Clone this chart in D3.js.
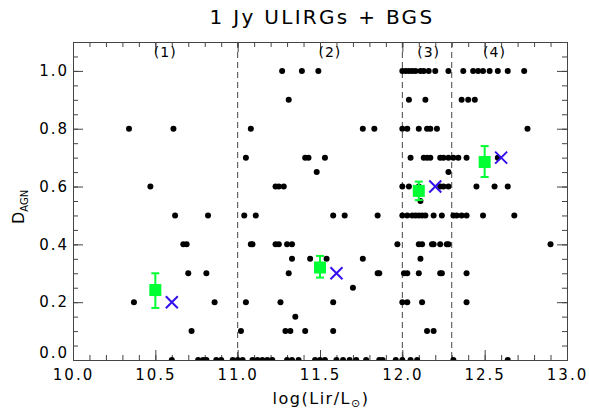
<!DOCTYPE html>
<html>
<head>
<meta charset="utf-8">
<script src="https://d3js.org/d3.v7.min.js"></script>
<style>
    body { margin: 0; background: #fff; }
    text { font-family: "DejaVu Sans", sans-serif; fill: #000; }
    .axis path, .axis line { stroke: #444; stroke-width: 1px; }
    .axis text { font-size: 15px; letter-spacing: 2px; }
</style>
</head>
<body>
<svg class="target" width="589" height="419"></svg>
<script>

    // log(Lir/Lsun) of each galaxy, grouped by its D_AGN value
    let d100 = [11.27, 11.39, 11.49, 12.0, 12.02, 12.04, 12.06, 12.08, 12.11, 12.13, 12.16, 12.20, 12.28, 12.37, 12.43, 12.46, 12.49, 12.53, 12.58, 12.64, 12.74];
    let d090 = [11.31, 12.04, 12.14, 12.36, 12.40, 12.44];
    let d080 = [10.34, 10.61, 11.08, 11.76, 11.83, 12.0, 12.03, 12.10, 12.15, 12.17, 12.21, 12.76];
    let d070 = [11.05, 11.41, 11.43, 11.53, 12.05, 12.13, 12.15, 12.17, 12.23, 12.25, 12.28, 12.31, 12.34, 12.39, 12.58];
    let d065 = [11.48, 12.28];
    let d060 = [10.47, 11.23, 11.25, 11.28, 12.0, 12.04, 12.10, 12.23, 12.25, 12.28, 12.45, 12.56, 12.64];
    let d055 = [12.11];
    let d050 = [10.62, 10.82, 11.04, 11.11, 11.58, 11.65, 11.85, 12.0, 12.03, 12.06, 12.08, 12.10, 12.12, 12.14, 12.19, 12.24, 12.31, 12.33, 12.36, 12.39, 12.49, 12.68];
    let d040 = [10.67, 10.69, 11.08, 11.09, 11.23, 11.25, 11.30, 11.33, 11.97, 12.10, 12.12, 12.18, 12.19, 12.23, 12.27, 12.28, 12.90];
    let d035 = [11.33, 11.44, 11.54, 11.76, 12.11];
    let d030 = [10.70, 10.81, 11.31, 11.85, 11.86, 12.01, 12.03, 12.10, 12.23, 12.24, 12.39];
    let d025 = [11.70];
    let d020 = [10.37, 10.86, 11.05, 11.26, 11.58, 12.0, 12.03, 12.12, 12.39];
    let d015 = [11.35];
    let d010 = [10.72, 11.02, 11.29, 11.32, 11.41, 11.58, 12.15, 12.19];
    let d000 = [10.60, 10.76, 10.79, 10.81, 10.87, 10.90, 10.97, 11.0, 11.03, 11.09, 11.12, 11.15, 11.18, 11.21, 11.30, 11.33, 11.37, 11.47, 11.50, 11.53, 11.60, 11.64, 11.68, 11.72, 11.78, 11.86, 11.88, 11.96, 12.0, 12.05, 12.09, 12.31, 12.64];

    // bin means (green squares with errors) and medians (blue crosses)
    let meanX = [10.5, 11.5, 12.1, 12.5];
    let meanY = [0.242, 0.32, 0.585, 0.685];
    let errLo = [0.18, 0.285, 0.553, 0.633];
    let errHi = [0.30, 0.36, 0.617, 0.74];
    let medX = [10.6, 11.6, 12.2, 12.6];
    let medY = [0.2, 0.3, 0.6, 0.7];

    let binEdges = [11.0, 12.0, 12.3];
    let binLabels = ["(1)", "(2)", "(3)", "(4)"];
    let binLabelX = [10.56, 11.56, 12.16, 12.56];

    let xTicks = [10.0, 10.5, 11.0, 11.5, 12.0, 12.5, 13.0];
    let yTicks = [0.0, 0.2, 0.4, 0.6, 0.8, 1.0];

    let rows = [
        [1.0, d100], [0.9, d090], [0.8, d080], [0.7, d070], [0.65, d065], [0.6, d060],
        [0.55, d055], [0.5, d050], [0.4, d040], [0.35, d035], [0.3, d030], [0.25, d025],
        [0.2, d020], [0.15, d015], [0.1, d010], [0.0, d000]
    ];
    let points = [];
    rows.forEach(r => r[1].forEach(v => points.push({x: v, y: r[0]})));

    let svg = d3.select(".target"),
        pLeft = 73, pRight = 567, pTop = 42, pBottom = 360;

    let x = d3.scaleLinear().domain([10, 13]).range([pLeft, pRight]);
    let y = d3.scaleLinear().domain([0, 1.1]).range([pBottom, pTop]);

    svg.append("defs").append("clipPath").attr("id", "plotclip")
        .append("rect")
        .attr("x", pLeft).attr("y", pTop)
        .attr("width", pRight - pLeft).attr("height", pBottom - pTop);

    // minor ticks
    let xMinor = d3.range(10, 13.001, 0.1);
    let yMinor = d3.range(0, 1.101, 0.05);
    svg.append("g").attr("class", "axis").attr("transform", "translate(0," + pBottom + ")")
        .call(d3.axisBottom(x).tickValues(xMinor).tickSize(-5).tickSizeOuter(0).tickFormat(""));
    svg.append("g").attr("class", "axis").attr("transform", "translate(0," + pTop + ")")
        .call(d3.axisTop(x).tickValues(xMinor).tickSize(-5).tickSizeOuter(0).tickFormat(""));
    svg.append("g").attr("class", "axis").attr("transform", "translate(" + pLeft + ",0)")
        .call(d3.axisLeft(y).tickValues(yMinor).tickSize(-5).tickSizeOuter(0).tickFormat(""));
    svg.append("g").attr("class", "axis").attr("transform", "translate(" + pRight + ",0)")
        .call(d3.axisRight(y).tickValues(yMinor).tickSize(-5).tickSizeOuter(0).tickFormat(""));

    // major ticks + labels
    svg.append("g").attr("class", "axis").attr("transform", "translate(0," + pBottom + ")")
        .call(d3.axisBottom(x).tickValues(xTicks).tickSize(-10).tickSizeOuter(0).tickPadding(9).tickFormat(d3.format(".1f")));
    svg.append("g").attr("class", "axis").attr("transform", "translate(0," + pTop + ")")
        .call(d3.axisTop(x).tickValues(xTicks).tickSize(-10).tickSizeOuter(0).tickFormat(""));
    let yAxisG = svg.append("g").attr("class", "axis").attr("transform", "translate(" + pLeft + ",0)")
        .call(d3.axisLeft(y).tickValues(yTicks).tickSize(-10).tickSizeOuter(0).tickPadding(4).tickFormat(d3.format(".1f")));
    // lift the bottom label clear of the x labels, as in the original
    yAxisG.selectAll(".tick text").filter(d => d === 0).attr("dy", "-0.15em");
    svg.append("g").attr("class", "axis").attr("transform", "translate(" + pRight + ",0)")
        .call(d3.axisRight(y).tickValues(yTicks).tickSize(-10).tickSizeOuter(0).tickFormat(""));

    // bin boundaries
    svg.append("g").selectAll("line")
        .data(binEdges)
        .enter().append("line")
        .attr("x1", d => x(d)).attr("x2", d => x(d))
        .attr("y1", pTop).attr("y2", pBottom)
        .attr("stroke", "#444")
        .attr("stroke-width", 1)
        .attr("stroke-dasharray", "6,4");

    svg.append("g").selectAll("text")
        .data(binLabels)
        .enter().append("text")
        .attr("x", (d, i) => x(binLabelX[i]))
        .attr("y", 57)
        .attr("text-anchor", "middle")
        .style("font-size", "14px")
        .style("letter-spacing", "1px")
        .text(d => d);

    // galaxies
    svg.append("g").attr("clip-path", "url(#plotclip)")
        .selectAll("circle")
        .data(points)
        .enter().append("circle")
        .attr("cx", d => x(d.x))
        .attr("cy", d => y(d.y))
        .attr("r", 3)
        .attr("fill", "#000");

    // mean with error bars
    let means = meanX.map((v, i) => ({x: v, y: meanY[i], lo: errLo[i], hi: errHi[i]}));
    let mg = svg.append("g").selectAll("g").data(means).enter().append("g");
    mg.append("line")
        .attr("x1", d => x(d.x)).attr("x2", d => x(d.x))
        .attr("y1", d => y(d.lo)).attr("y2", d => y(d.hi))
        .attr("stroke", "#00ff33").attr("stroke-width", 2);
    mg.append("line")
        .attr("x1", d => x(d.x) - 4).attr("x2", d => x(d.x) + 4)
        .attr("y1", d => y(d.lo)).attr("y2", d => y(d.lo))
        .attr("stroke", "#00ff33").attr("stroke-width", 2);
    mg.append("line")
        .attr("x1", d => x(d.x) - 4).attr("x2", d => x(d.x) + 4)
        .attr("y1", d => y(d.hi)).attr("y2", d => y(d.hi))
        .attr("stroke", "#00ff33").attr("stroke-width", 2);
    mg.append("rect")
        .attr("x", d => x(d.x) - 6).attr("y", d => y(d.y) - 6)
        .attr("width", 12).attr("height", 12)
        .attr("fill", "#00ff33");

    // medians
    let medians = medX.map((v, i) => ({x: v, y: medY[i]}));
    svg.append("g").selectAll("path")
        .data(medians)
        .enter().append("path")
        .attr("d", d => {
            let cx = x(d.x), cy = y(d.y), s = 6;
            return "M" + (cx - s) + "," + (cy - s) + "L" + (cx + s) + "," + (cy + s) +
                   "M" + (cx - s) + "," + (cy + s) + "L" + (cx + s) + "," + (cy - s);
        })
        .attr("stroke", "#3311ee")
        .attr("stroke-width", 2)
        .attr("fill", "none");

    // titles
    svg.append("text")
        .attr("x", 322).attr("y", 24)
        .attr("text-anchor", "middle")
        .style("font-size", "20px")
        .style("letter-spacing", "2.3px")
        .text("1 Jy ULIRGs + BGS");

    let xl = svg.append("text")
        .attr("x", 321).attr("y", 404)
        .attr("text-anchor", "middle")
        .style("font-size", "16px")
        .style("letter-spacing", "1.5px");
    xl.append("tspan").text("log(Lir/L");
    xl.append("tspan").attr("dy", 3).style("font-size", "11px").text("\u2299");
    xl.append("tspan").attr("dy", -3).text(")");

    let yl = svg.append("text")
        .attr("transform", "translate(24,207) rotate(-90)")
        .attr("text-anchor", "middle")
        .style("font-size", "16px");
    yl.append("tspan").text("D");
    yl.append("tspan").attr("dy", 4).style("font-size", "10px").text("AGN");

</script>
</body>
</html>
